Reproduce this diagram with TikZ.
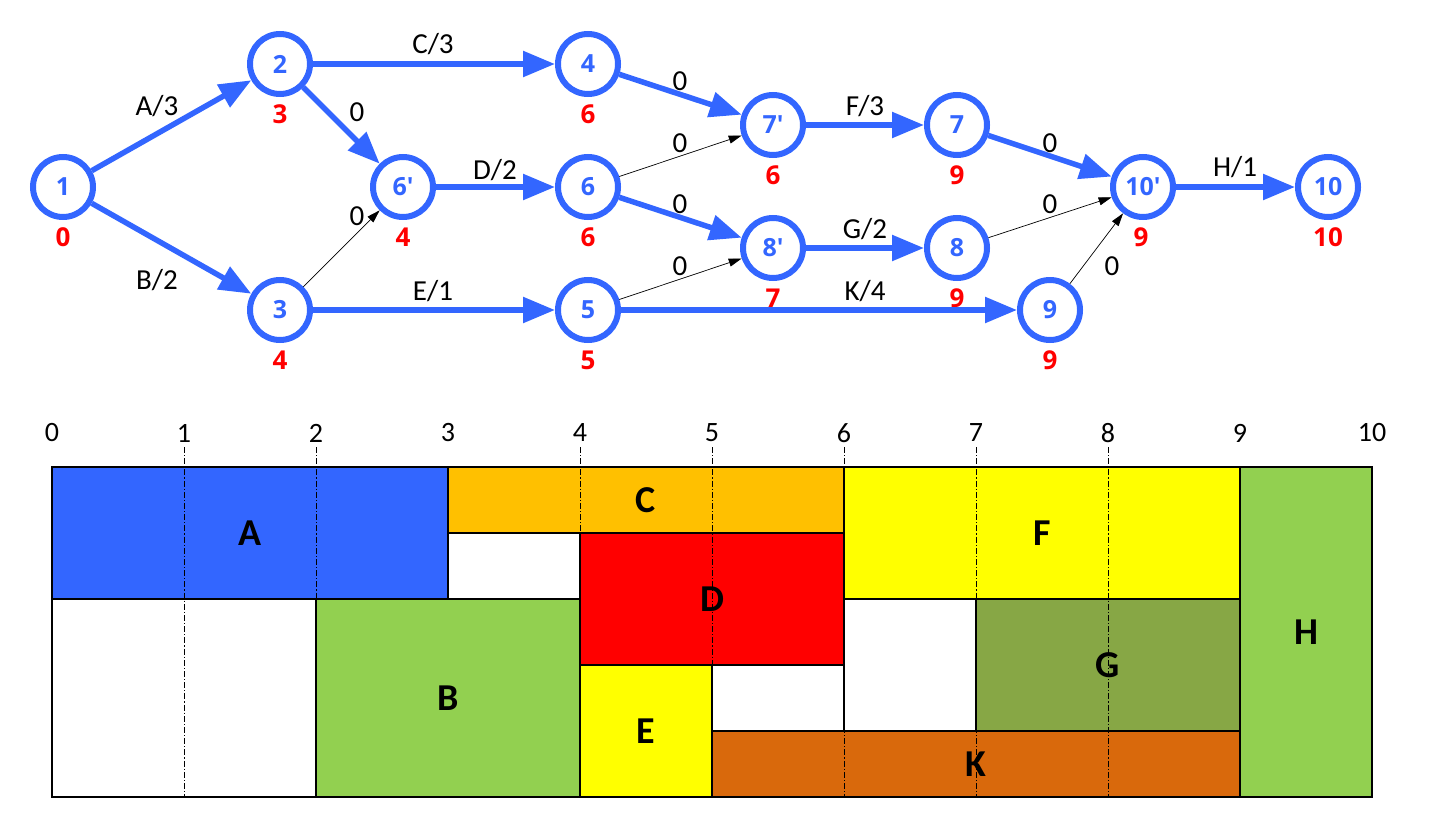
\documentclass[tikz,border=0pt]{standalone}
\usepackage{fontspec}
\setmainfont{Carlito}
\newfontfamily\nfont{Open Sans}
\usetikzlibrary{arrows.meta}
\definecolor{nblue}{HTML}{3366FF}
\definecolor{corange}{HTML}{FFC000}
\definecolor{bgreen}{HTML}{92D050}
\definecolor{golive}{HTML}{87A745}
\definecolor{korange}{HTML}{D9690C}
\definecolor{yel}{HTML}{FFFF00}
\begin{document}
\begin{tikzpicture}[x=1pt,y=-1pt,
  ev/.style={circle,draw=nblue,line width=6pt,minimum size=60pt,inner sep=0pt,
    font=\nfont\bfseries\fontsize{25}{25}\selectfont,text=nblue},
  tm/.style={font=\nfont\bfseries\fontsize{26}{26}\selectfont,text=red,inner sep=0pt},
  act/.style={draw=nblue,line width=5.5pt,-{Triangle[length=32pt,width=25pt]}},
  dum/.style={draw=black,line width=0.7pt,-{Triangle[length=13pt,width=8pt]}},
  lbl/.style={font=\fontsize{29}{29}\selectfont,inner sep=0pt},
  tick/.style={font=\fontsize{28}{28}\selectfont,inner sep=0pt},
  blet/.style={font=\bfseries\fontsize{38}{38}\selectfont,inner sep=0pt},
  box/.style={draw=black,line width=1.2pt},
  grid/.style={draw=black,line width=0.7pt,dash pattern=on 6pt off 2pt on 1.2pt off 2pt}]
\useasboundingbox (0,0) rectangle (1447,816);
% ---------- network ----------
\node[ev] (n1) at (63,187) {1};
\node[ev] (n2) at (280,64) {2};
\node[ev] (n3) at (280,310) {3};
\node[ev] (n6p) at (403,187) {6\textquotesingle};
\node[ev] (n4) at (588,64) {4};
\node[ev] (n6) at (588,187) {6};
\node[ev] (n5) at (588,310) {5};
\node[ev] (n7p) at (773,125) {7\textquotesingle};
\node[ev] (n8p) at (773,248) {8\textquotesingle};
\node[ev] (n7) at (957,125) {7};
\node[ev] (n8) at (957,248) {8};
\node[ev] (n9) at (1050,310) {9};
\node[ev] (n10p) at (1143,187) {10\textquotesingle};
\node[ev] (n10) at (1328,187) {10};
% times
\node[tm] (t1) at (63,237) {0};
\node[tm] (t2) at (280,114) {3};
\node[tm] (t3) at (280,360) {4};
\node[tm] (t6p) at (403,237) {4};
\node[tm] (t4) at (588,114) {6};
\node[tm] (t6) at (588,237) {6};
\node[tm] (t5) at (588,360) {5};
\node[tm] (t7p) at (773,175) {6};
\node[tm] (t8p) at (773,298) {7};
\node[tm] (t7) at (957,175) {9};
\node[tm] (t8) at (957,298) {9};
\node[tm] (t9) at (1050,360) {9};
\node[tm] (t10p) at (1141,237) {9};
\node[tm] (t10) at (1328,237) {10};
% activities
\draw[act] (n1) -- (n2);
\draw[act] (n1) -- (n3);
\draw[act] (n2) -- (n4);
\draw[act] (n2) -- (n6p);
\draw[act] (n6p) -- (n6);
\draw[act] (n3) -- (n5);
\draw[act] (n4) -- (n7p);
\draw[act] (n6) -- (n8p);
\draw[act] (n7p) -- (n7);
\draw[act] (n8p) -- (n8);
\draw[act] (n5) -- (n9);
\draw[act] (n7) -- (n10p);
\draw[act] (n10p) -- (n10);
% dummies
\draw[dum] (n3) -- (n6p);
\draw[dum] (n6) -- (n7p);
\draw[dum] (n5) -- (n8p);
\draw[dum] (n8) -- (n10p);
\draw[dum] (n9) -- (n10p);
% labels
\node[lbl] (lA) at (157,106) {A/3};
\node[lbl] (lB) at (157,280) {B/2};
\node[lbl] (l26) at (357,112) {0};
\node[lbl] (l36) at (357,216) {0};
\node[lbl] (lC) at (433,44) {C/3};
\node[lbl] (lD) at (495,170) {D/2};
\node[lbl] (lE) at (433,291) {E/1};
\node[lbl] (l47) at (680,81) {0};
\node[lbl] (l67) at (680,143) {0};
\node[lbl] (l68) at (680,204) {0};
\node[lbl] (l58) at (680,266) {0};
\node[lbl] (lF) at (865,106) {F/3};
\node[lbl] (lG) at (865,229) {G/2};
\node[lbl] (lK) at (865,291) {K/4};
\node[lbl] (l710) at (1050,143) {0};
\node[lbl] (l810) at (1050,204) {0};
\node[lbl] (l910) at (1112,266) {0};
\node[lbl] (lH) at (1235,167) {H/1};
% ---------- chart ----------
\fill[nblue] (52,467) rectangle (448,599);
\fill[corange] (448,467) rectangle (844,533);
\fill[red] (580,533) rectangle (844,665);
\fill[bgreen] (316,599) rectangle (580,797);
\fill[yel] (580,665) rectangle (712,797);
\fill[yel] (844,467) rectangle (1240,599);
\fill[golive] (976,599) rectangle (1240,731);
\fill[korange] (712,731) rectangle (1240,797);
\fill[bgreen] (1240,467) rectangle (1372,797);
\draw[box] (52,467) rectangle (448,599);
\draw[box] (448,467) rectangle (844,533);
\draw[box] (580,533) rectangle (844,665);
\draw[box] (316,599) rectangle (580,797);
\draw[box] (580,665) rectangle (712,797);
\draw[box] (844,467) rectangle (1240,599);
\draw[box] (976,599) rectangle (1240,731);
\draw[box] (712,731) rectangle (1240,797);
\draw[box] (1240,467) rectangle (1372,797);
\draw[box] (52,599) rectangle (316,797);
\draw[box] (448,533) rectangle (580,599);
\draw[box] (712,665) rectangle (844,731);
\draw[box] (844,599) rectangle (976,731);
\draw[box] (52,467) rectangle (1372,797);
\foreach \xx in {184,316,580,712,844,976,1108}
  \draw[grid] (\xx,447) -- (\xx,797);
\foreach \k in {0,...,10}
  \node[tick] (tk\k) at ({52+132*\k},433) {\k};
\node[blet] (bA) at (250,533) {A};
\node[blet] (bC) at (646,500) {C};
\node[blet] (bD) at (712,599) {D};
\node[blet] (bB) at (448,698) {B};
\node[blet] (bE) at (646,731) {E};
\node[blet] (bF) at (1042,533) {F};
\node[blet] (bG) at (1108,665) {G};
\node[blet] (bK) at (976,764) {K};
\node[blet] (bH) at (1306,632) {H};
\end{tikzpicture}
\end{document}
